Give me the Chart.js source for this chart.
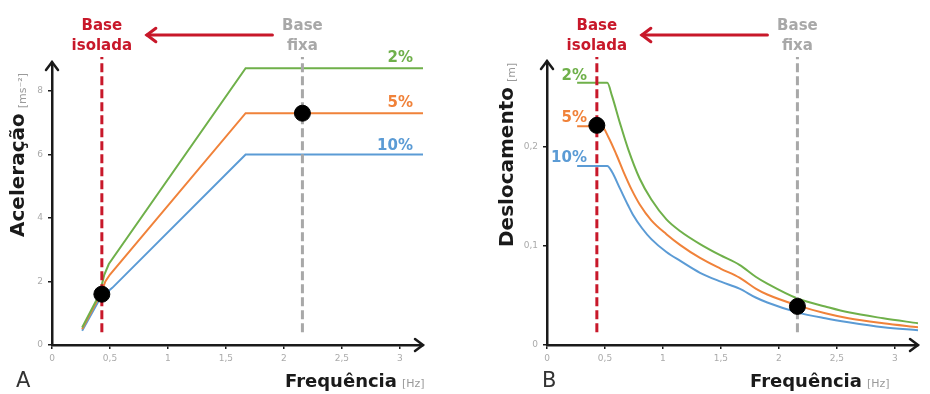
<!DOCTYPE html>
<html>
<head>
<meta charset="utf-8">
<script src="https://cdn.jsdelivr.net/npm/chart.js@4.4.1/dist/chart.umd.min.js"></script>
<style>
  body { margin: 0; background: #fff; }
  #wrap { position: relative; width: 930px; height: 394px; }
  canvas { position: absolute; top: 0; }
</style>
</head>
<body>
<div id="wrap">
  <canvas id="chartA" width="465" height="394" style="left:0"></canvas>
  <canvas id="chartB" width="465" height="394" style="left:465px"></canvas>
</div>
<script>
// --- data ---
// A: acceleration spectrum [m/s2] vs frequency [Hz]
const freqGreenA = [0.26, 0.41, 0.45, 0.49, 1.67, 3.2];
const accGreenA  = [0.55, 1.6, 2.2, 2.55, 8.72, 8.72];
const freqOrangeA = [0.26, 0.42, 0.46, 0.50, 1.67, 3.2];
const accOrangeA  = [0.5, 1.6, 2.0, 2.22, 7.3, 7.3];
const freqBlueA = [0.26, 0.42, 0.52, 1.67, 3.2];
const accBlueA  = [0.45, 1.5, 1.8, 6.0, 6.0];

// B: displacement spectrum [m] vs frequency [Hz]
const freqGreenB = [0.26, 0.52, 0.56, 0.63, 0.70, 0.80, 0.90, 1.03, 1.15, 1.32, 1.49, 1.66, 1.80, 1.90, 2.16, 2.40, 2.60, 2.90, 3.2];
const dispGreenB = [0.265, 0.265, 0.252, 0.224, 0.198, 0.168, 0.147, 0.127, 0.115, 0.102, 0.091, 0.081, 0.069, 0.062, 0.047, 0.039, 0.033, 0.027, 0.022];
const freqOrangeB = [0.26, 0.47, 0.53, 0.60, 0.66, 0.73, 0.80, 0.90, 1.03, 1.15, 1.32, 1.50, 1.66, 1.80, 1.90, 2.16, 2.40, 2.60, 2.90, 3.2];
const dispOrangeB = [0.221, 0.221, 0.210, 0.192, 0.175, 0.157, 0.142, 0.126, 0.112, 0.101, 0.088, 0.077, 0.068, 0.057, 0.051, 0.040, 0.032, 0.027, 0.022, 0.018];
const freqBlueB = [0.26, 0.52, 0.56, 0.63, 0.70, 0.74, 0.82, 0.90, 1.03, 1.15, 1.32, 1.50, 1.66, 1.80, 1.90, 2.16, 2.40, 2.60, 2.90, 3.2];
const dispBlueB = [0.181, 0.181, 0.175, 0.158, 0.141, 0.132, 0.118, 0.107, 0.094, 0.085, 0.073, 0.064, 0.057, 0.048, 0.043, 0.033, 0.027, 0.023, 0.018, 0.015];

// marked points (isolated base / fixed base)
const dotFreq = [0.43, 2.16];
const dotAccA = [1.6, 7.3];
const dotDispB = [0.222, 0.039];

const isoFreq = 0.43, fixFreq = 2.16;
const dampingLabels = ['2%', '5%', '10%'];

const GREEN = '#6fb04a', ORANGE = '#f0823a', BLUE = '#5b9bd5';
const RED = '#c8182a', GREY = '#a8a8a8', AXIS = '#1a1a1a';

Chart.defaults.font.family = 'DejaVu Sans';

const pts = (xs, ys) => xs.map((x, i) => ({ x: x, y: ys[i] }));

function arrowHead(c, x, y, dir, len) {
  c.beginPath();
  if (dir === 'right') { c.moveTo(x - len, y - len * 0.75); c.lineTo(x, y); c.lineTo(x - len, y + len * 0.75); }
  if (dir === 'left')  { c.moveTo(x + len, y - len * 0.75); c.lineTo(x, y); c.lineTo(x + len, y + len * 0.75); }
  if (dir === 'up')    { c.moveTo(x - len * 0.75, y + len); c.lineTo(x, y); c.lineTo(x + len * 0.75, y + len); }
  c.stroke();
}

// draws titles, arrows, annotations
const decor = {
  id: 'decor',
  afterDraw(chart, args, o) {
    const c = chart.ctx, a = chart.chartArea, xs = chart.scales.x;
    c.save();
    // axis arrows
    c.strokeStyle = AXIS; c.lineWidth = 2.5; c.lineCap = 'round';
    c.beginPath(); c.moveTo(a.left, a.top); c.lineTo(a.left, a.top - 2); c.stroke();
    arrowHead(c, a.right, a.bottom, 'right', 8);
    arrowHead(c, a.left, a.top - 2, 'up', 8);

    // x title
    c.fillStyle = '#1a1a1a';
    c.font = 'bold 18px "DejaVu Sans"';
    c.textAlign = 'left'; c.textBaseline = 'alphabetic';
    c.fillText('Frequência', 285, 387);
    const fw = c.measureText('Frequência').width;
    c.fillStyle = '#9a9a9a'; c.font = '11px "DejaVu Sans"';
    c.fillText('[Hz]', 285 + fw + 5, 387);

    // panel letter
    c.fillStyle = '#333'; c.font = '21px "DejaVu Sans"';
    c.fillText(o.letter, o.letterX, 387);

    // y title (rotated)
    c.save();
    c.translate(o.yTitleX, o.yTitleY);
    c.rotate(-Math.PI / 2);
    c.fillStyle = '#1a1a1a'; c.font = 'bold 20px "DejaVu Sans"';
    c.fillText(o.yTitle, 0, 0);
    const yw = c.measureText(o.yTitle).width;
    c.fillStyle = '#9a9a9a'; c.font = '11px "DejaVu Sans"';
    c.fillText(o.yUnit, yw + 5, 2);
    c.restore();

    // base labels + arrow
    const xi = xs.getPixelForValue(isoFreq), xf = xs.getPixelForValue(fixFreq);
    c.textAlign = 'center';
    c.font = 'bold 15px "DejaVu Sans"';
    c.fillStyle = RED;
    c.fillText('Base', xi, 30); c.fillText('isolada', xi, 50);
    c.fillStyle = GREY;
    c.fillText('Base', xf, 30); c.fillText('fixa', xf, 50);
    c.strokeStyle = RED; c.lineWidth = 3;
    c.beginPath(); c.moveTo(xf - 30, 35); c.lineTo(xi + 45, 35); c.stroke();
    arrowHead(c, xi + 45, 35, 'left', 9);

    // damping labels
    c.textAlign = 'right';
    c.font = 'bold 15px "DejaVu Sans"';
    const cols = [GREEN, ORANGE, BLUE];
    dampingLabels.forEach((t, i) => {
      c.fillStyle = cols[i];
      c.fillText(t, o.pctX, o.pctY[i]);
    });
    c.restore();
  }
};

function tickFmt(v) { return String(Math.round(v * 100) / 100).replace('.', ','); }

function makeScales(yMax, yStep, yWidth) {
  const grid = { display: true, drawOnChartArea: false, drawTicks: true, tickLength: 4, color: AXIS, lineWidth: 1.5 };
  const border = { display: true, color: AXIS, width: 2.5 };
  return {
    x: {
      type: 'linear', min: 0, max: 3.2,
      afterFit: s => { s.height = 49; },
      ticks: { stepSize: 0.5, includeBounds: false, color: '#aaa', font: { size: 9 }, padding: 4, maxRotation: 0, callback: tickFmt },
      grid: grid, border: border
    },
    y: {
      min: 0, max: yMax,
      afterFit: s => { s.width = yWidth; },
      ticks: { stepSize: yStep, includeBounds: false, color: '#aaa', font: { size: 9 }, padding: 5, callback: tickFmt },
      grid: grid, border: border
    }
  };
}

function curve(data, color, smooth) {
  const ds = { data: data, borderColor: color, borderWidth: 2, pointRadius: 0, fill: false, tension: 0 };
  if (smooth) ds.cubicInterpolationMode = 'monotone';
  return ds;
}
function vline(x, y0, y1, color) {
  return { data: [{ x: x, y: y0 }, { x: x, y: y1 }], borderColor: color, borderWidth: 3, borderDash: [9, 4], pointRadius: 0, clip: false };
}
function dots(data) {
  return { data: data, showLine: false, pointRadius: 8, pointBackgroundColor: '#000', pointBorderColor: '#000', pointBorderWidth: 1 };
}

new Chart(document.getElementById('chartA'), {
  type: 'line',
  data: {
    datasets: [
      dots(pts(dotFreq, dotAccA)),
      vline(isoFreq, 0.4, 9.07, RED),
      vline(fixFreq, 0.4, 9.07, GREY),
      curve(pts(freqGreenA, accGreenA), GREEN),
      curve(pts(freqOrangeA, accOrangeA), ORANGE),
      curve(pts(freqBlueA, accBlueA), BLUE)
    ]
  },
  options: {
    responsive: false, animation: false,
    layout: { padding: { top: 64, right: 42, left: 0, bottom: 0 } },
    plugins: {
      legend: { display: false }, tooltip: { enabled: false },
      decor: { letter: 'A', letterX: 16, yTitle: 'Aceleração', yUnit: '[ms⁻²]', yTitleX: 24, yTitleY: 237, pctX: 413, pctY: [62, 107, 150] }
    },
    scales: makeScales(8.85, 2, 52)
  },
  plugins: [decor]
});

new Chart(document.getElementById('chartB'), {
  type: 'line',
  data: {
    datasets: [
      dots(pts(dotFreq, dotDispB)),
      vline(isoFreq, 0.013, 0.291, RED),
      vline(fixFreq, 0.013, 0.291, GREY),
      curve(pts(freqGreenB, dispGreenB), GREEN, true),
      curve(pts(freqOrangeB, dispOrangeB), ORANGE, true),
      curve(pts(freqBlueB, dispBlueB), BLUE, true)
    ]
  },
  options: {
    responsive: false, animation: false,
    layout: { padding: { top: 63, right: 12, left: 0, bottom: 0 } },
    plugins: {
      legend: { display: false }, tooltip: { enabled: false },
      decor: { letter: 'B', letterX: 77, yTitle: 'Deslocamento', yUnit: '[m]', yTitleX: 48, yTitleY: 247, pctX: 122, pctY: [80, 122, 162] }
    },
    scales: makeScales(0.285, 0.1, 82)
  },
  plugins: [decor]
});
</script>
</body>
</html>
